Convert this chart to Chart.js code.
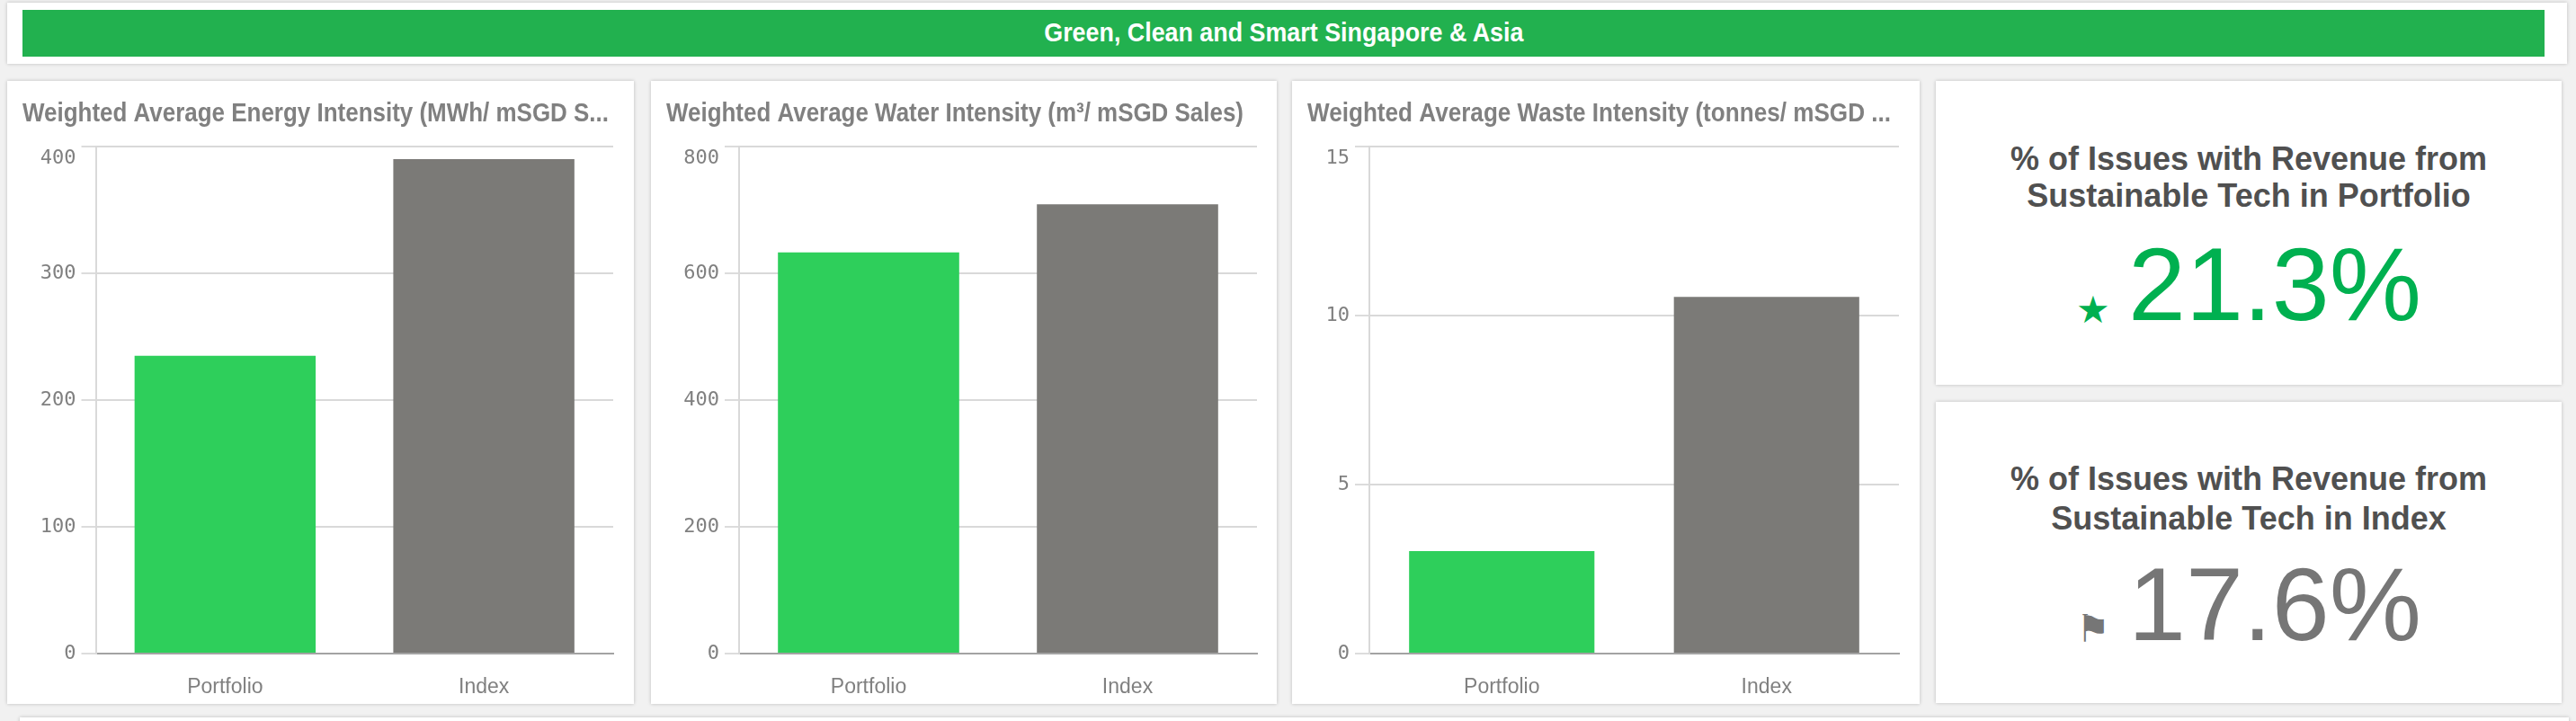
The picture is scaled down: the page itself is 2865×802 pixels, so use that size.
<!DOCTYPE html>
<html>
<head>
<meta charset="utf-8">
<title>Green, Clean and Smart Singapore & Asia</title>
<script src="https://cdn.jsdelivr.net/npm/chart.js@4/dist/chart.umd.min.js"></script>
<style>
html, body { margin: 0; padding: 0; background: #f1f1f1; }
body { position: relative; width: 2865px; height: 802px; overflow: hidden; font-family: "Liberation Sans", Arial, sans-serif; }
.card { position: absolute; background: #fff; box-shadow: 0 0 4px rgba(0,0,0,.22); }
.banner { position: absolute; left: 25px; top: 11px; width: 2805px; height: 52px; background: #22b14f; color: #fff; text-align: center;
  font: bold 30px/50px "Liberation Sans", sans-serif; }
.banner span { display: inline-block; transform: scaleX(0.895); }
.kpi-title { position: absolute; left: 0; right: 0; text-align: center; font-weight: bold; font-size: 36px; color: #505050; white-space: nowrap; line-height: 1; }
.kpi-value { position: absolute; font-size: 115px; line-height: 1; white-space: nowrap; }
.kpi-icon { position: absolute; line-height: 1; font-family: "DejaVu Sans"; font-size: 42px; white-space: nowrap; }
</style>
</head>
<body>
<div class="card" style="left:8px;top:3px;width:2847px;height:68px"></div>
<div class="banner"><span id="banner"></span></div>
<div class="card" style="left:22px;top:798px;width:2835px;height:20px"></div>
<script>
const bannerText = "Green, Clean and Smart Singapore & Asia";

const categories = ["Portfolio", "Index"];
const barColors = ["#2ecf5b", "#7b7a77"];

const chartTitles = [
  "Weighted Average Energy Intensity (MWh/ mSGD S...",
  "Weighted Average Water Intensity (m³/ mSGD Sales)",
  "Weighted Average Waste Intensity (tonnes/ mSGD ..."
];
const energyValues = [235, 390];
const waterValues = [633, 709];
const wasteValues = [3.03, 10.55];
const seriesValues = [energyValues, waterValues, wasteValues];
const axisMax = [400, 800, 15];
const axisStep = [100, 200, 5];

const kpiLines = [
  ["% of Issues with Revenue from", "Sustainable Tech in Portfolio"],
  ["% of Issues with Revenue from", "Sustainable Tech in Index"]
];
const kpiValues = ["21.3%", "17.6%"];
const kpiIcons = ["★", "⚑"];
const kpiColors = ["#00b050", "#767676"];

// card box and plot edges, in page pixels
const panels = [
  { left: 8, width: 697, plotLeft: 106.5, plotRight: 682, titleWidth: 652 },
  { left: 724, width: 696, plotLeft: 822, plotRight: 1398, titleWidth: 642 },
  { left: 1437, width: 698, plotLeft: 1523, plotRight: 2112, titleWidth: 649 }
];
const titleSize = 29;
const cardTop = 90, cardBottom = 783, plotTop = 163, plotBottom = 727;

document.getElementById('banner').textContent = bannerText;

panels.forEach((p, i) => {
  const card = document.createElement('div');
  card.className = 'card';
  card.style.cssText = `left:${p.left}px;top:${cardTop}px;width:${p.width}px;height:${cardBottom - cardTop}px`;
  const canvas = document.createElement('canvas');
  card.appendChild(canvas);
  document.body.appendChild(card);

  new Chart(canvas, {
    type: 'bar',
    data: {
      labels: categories,
      datasets: [{ data: seriesValues[i], backgroundColor: barColors, barPercentage: 0.7, categoryPercentage: 1 }]
    },
    plugins: [{
      id: 'titleWidth',
      // the title is squeezed to its box, so the box sets the text width
      afterLayout: chart => { chart.titleBlock.right = chart.titleBlock.left + p.titleWidth; }
    }],
    options: {
      responsive: true,
      maintainAspectRatio: false,
      animation: false,
      layout: { padding: { left: 17, right: p.left + p.width - p.plotRight, top: 0, bottom: 0 } },
      plugins: {
        legend: { display: false },
        tooltip: { enabled: false },
        title: {
          display: true,
          text: chartTitles[i],
          align: 'start',
          color: '#808080',
          font: { family: '"Liberation Sans"', weight: 'bold', size: titleSize, lineHeight: 1 },
          padding: { top: 22, bottom: plotTop - cardTop - 22 - titleSize }
        }
      },
      scales: {
        x: {
          grid: { display: false },
          border: { color: '#a3a3a3', width: 2 },
          ticks: { color: '#808080', font: { family: '"Liberation Sans"', size: 23 }, padding: 16 },
          afterFit: s => { s.height = cardBottom - plotBottom; }
        },
        y: {
          min: 0,
          max: axisMax[i],
          grid: {
            color: c => c.tick && c.tick.value === 0 ? 'rgba(0,0,0,0)' : '#d9d9d9',
            lineWidth: 2,
            tickLength: 16,
            tickColor: '#dcdcdc'
          },
          border: { color: '#d9d9d9', width: 2 },
          ticks: {
            stepSize: axisStep[i],
            padding: 6,
            color: '#808080',
            font: { family: '"DejaVu Sans Mono"', size: 22 },
            // the top label hangs below its gridline
            callback: v => v === axisMax[i] ? ['', String(v)] : String(v)
          },
          afterFit: s => { s.width = p.plotLeft - p.left - 17; }
        }
      }
    }
  });
});

const kpiBoxes = [
  { top: 90, height: 338, line1: 159, line2: 200, base: 356, icon: 345 },
  { top: 447, height: 335, line1: 515, line2: 559, base: 712, icon: 700 }
];

kpiBoxes.forEach((b, i) => {
  const card = document.createElement('div');
  card.className = 'card';
  card.style.cssText = `left:2153px;top:${b.top}px;width:696px;height:${b.height}px`;
  [b.line1, b.line2].forEach((y, n) => {
    const t = document.createElement('div');
    t.className = 'kpi-title';
    t.style.top = (y - b.top) + 'px';
    t.textContent = kpiLines[i][n];
    card.appendChild(t);
  });
  const v = document.createElement('div');
  v.className = 'kpi-value';
  v.style.right = (2849 - 2693) + 'px';
  v.style.top = (b.base - 97 - b.top) + 'px';
  v.style.color = kpiColors[i];
  v.textContent = kpiValues[i];
  card.appendChild(v);
  const ic = document.createElement('div');
  ic.className = 'kpi-icon';
  ic.style.left = (2309 - 2153) + 'px';
  ic.style.top = (b.icon - 21 - b.top) + 'px';
  ic.style.color = kpiColors[i];
  ic.textContent = kpiIcons[i];
  card.appendChild(ic);
  document.body.appendChild(card);
});
</script>
</body>
</html>
